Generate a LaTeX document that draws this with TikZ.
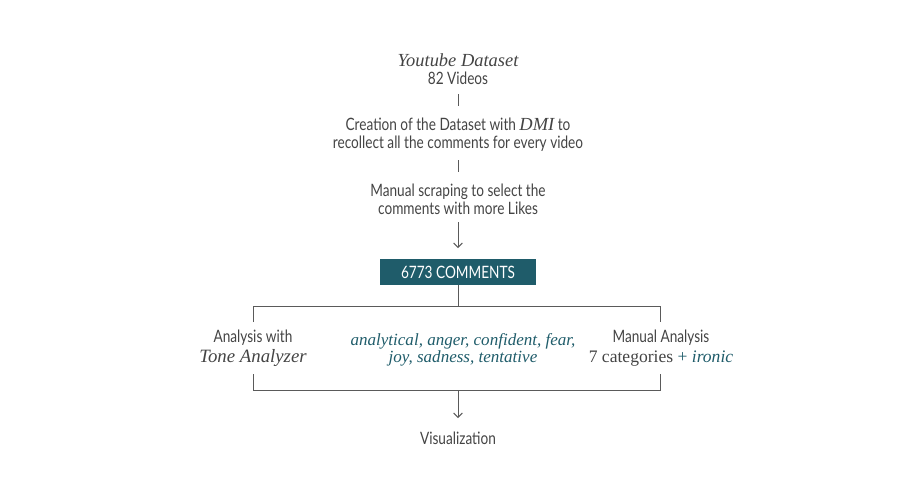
\documentclass[tikz,border=0pt]{standalone}
\usepackage{fontspec}
\setmainfont{Liberation Serif}
\setsansfont{Lato}[FakeStretch=0.8]
\usetikzlibrary{arrows.meta}
\usetikzlibrary{positioning}
\definecolor{teal}{HTML}{1F5C6A}
\definecolor{ink}{HTML}{444444}
\definecolor{wire}{HTML}{5A5A5A}

\begin{document}
\begin{tikzpicture}[x=0.02cm,y=-0.02cm]
          \tikzstyle{stepbox} = [color=ink, font=\sffamily\fontsize{9.7}{10.2}\selectfont, align=center, inner sep=0pt]
          \tikzstyle{title} = [color=ink, font=\itshape\fontsize{10.5}{12}\selectfont, inner sep=0pt]
          \tikzstyle{emo} = [color=teal, font=\itshape\fontsize{9.7}{10}\selectfont, align=center, inner sep=0pt]
          \tikzstyle{wire} = [draw=wire, line width=0.55pt]
          \tikzstyle{arrow} = [wire, -{Straight Barb[length=2.5pt,width=5pt]}]

          \useasboundingbox (0,0) rectangle (900,494);

          % Nodes
          \node[title] (yt) at (458,60) {Youtube Dataset};
          \node[stepbox] (vids) at (458,78) {82 Videos};
          \node[stepbox] (dmi) at (458,135) {Creation of the Dataset with {\rmfamily\itshape\fontsize{10.5}{10}\selectfont DMI} to\\recollect all the comments for every video};
          \node[stepbox] (scrap) at (458,199) {Manual scraping to select the\\comments with more Likes};
          \node[fill=teal, text=white, font=\sffamily\fontsize{9.7}{10}\selectfont, inner sep=0pt,
                minimum width=3.14cm, minimum height=0.52cm] (com) at (458,272) {6773 COMMENTS};
          \node[stepbox] (tone) at (253,348) {Analysis with\\[1pt]{\rmfamily\itshape\fontsize{10.7}{12}\selectfont Tone Analyzer}};
          \node[emo] (cats) at (463,350) {analytical, anger, confident, fear,\\joy, sadness, tentative};
          \node[stepbox] (man) at (661,348) {Manual Analysis\\[1pt]{\rmfamily\fontsize{10}{12}\selectfont 7 categories {\color{teal}+ \itshape ironic}}};
          \node[stepbox] (vis) at (458,438) {Visualization};

          % Coordinates
          \foreach \name / \y in {a1/94, a2/106, b1/160, b2/172, c1/222, c2/248, top/306, bot/390}
            \coordinate (\name) at (458,\y);
          \foreach \name / \x in {l/253, r/660} {
            \coordinate (\name t) at (\x,306);
            \coordinate (\name a) at (\x,322);
            \coordinate (\name b) at (\x,374);
            \coordinate (\name c) at (\x,390);
          }
          \coordinate (v) at (458,418);

          % Edges
          \draw[wire] (a1) -- (a2);
          \draw[wire] (b1) -- (b2);
          \draw[arrow] (c1) -- (c2);
          \draw[wire] (com.south) -- (top);
          \draw[wire] (la) -- (lt) -- (rt) -- (ra);
          \draw[wire] (lb) -- (lc) -- (rc) -- (rb);
          \draw[arrow] (bot) -- (v);

        \end{tikzpicture}
\end{document}
